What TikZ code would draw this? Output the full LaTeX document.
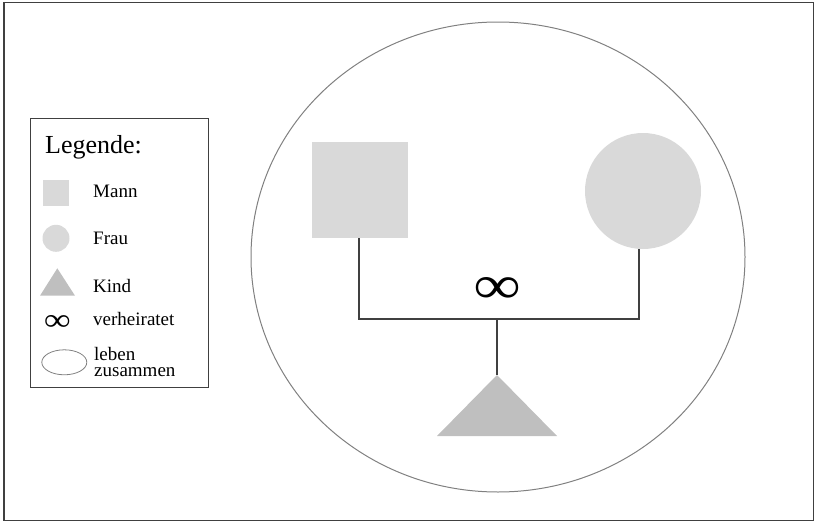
\documentclass[tikz,border=0pt]{standalone}
\usepackage{fontspec}
\setmainfont{Liberation Serif}
\usetikzlibrary{shapes.geometric}
\definecolor{mfill}{HTML}{D9D9D9}
\definecolor{kfill}{HTML}{BFBFBF}
\definecolor{lnc}{HTML}{404040}
\definecolor{elc}{HTML}{808080}
\tikzset{
  person/.style={fill=mfill, draw=none, inner sep=0pt},
  conn/.style={draw=lnc, line width=1.5pt},
  legtext/.style={anchor=base west, inner sep=0pt, font=\fontsize{19}{16.5}\selectfont},
}
\begin{document}
\begin{tikzpicture}[x=1pt,y=-1pt]
\useasboundingbox (0,0) rectangle (815,522);
% outer frame
\draw[lnc, line width=1.3pt] (4,2.5) rectangle (813.5,520.5);
% household ellipse
\node[ellipse, draw=elc, line width=1pt, minimum width=494, minimum height=470, inner sep=0pt] (haus) at (498,257) {};
% persons
\node[person, rectangle, minimum size=96] (mann) at (360,190) {};
\node[person, circle, minimum size=116] (frau) at (643,191) {};
% child triangle
\fill[kfill] (437,436) -- (497,375) -- (557,436) -- cycle;
\coordinate (kind) at (497,375);
% junctions
\coordinate (jl) at (359,319);
\coordinate (jr) at (639,319);
\coordinate (jm) at (497,319);
\draw[conn] (mann.south -| jl) -- (jl) -- (jr) -- (frau.south -| jr);
\draw[conn] (jm) -- (kind);
% marriage symbol
\node[inner sep=0pt] (ehe) at (497,290.5) {\resizebox{46pt}{26pt}{\bfseries ∞}};
% legend
\node[draw=lnc, line width=1pt, minimum width=178, minimum height=269, inner sep=0pt] (legende) at (119,252.5) {};
\node[anchor=base west, inner sep=0pt, font=\fontsize{26}{30}\selectfont] (ltitel) at (45,153) {Legende:};
\node[person, rectangle, minimum size=26] (lmann) at (56,192.5) {};
\node[legtext] (tmann) at (93,197.3) {Mann};
\node[person, circle, minimum size=27] (lfrau) at (56,238.3) {};
\node[legtext] (tfrau) at (93,244) {Frau};
\fill[kfill] (40,295.7) -- (57.3,268.3) -- (75,295.7) -- cycle;
\node[legtext] (tkind) at (93,292.7) {Kind};
\node[inner sep=0pt] (lehe) at (57.3,323) {\resizebox{26pt}{15pt}{\bfseries ∞}};
\node[legtext] (tehe) at (93,325) {verheiratet};
\node[ellipse, draw=elc, line width=0.8pt, minimum width=45, minimum height=25, inner sep=0pt] (lhaus) at (64.3,362.3) {};
\node[legtext, align=left] (thaus) at (94,376.7) {leben\\zusammen};
\end{tikzpicture}
\end{document}
